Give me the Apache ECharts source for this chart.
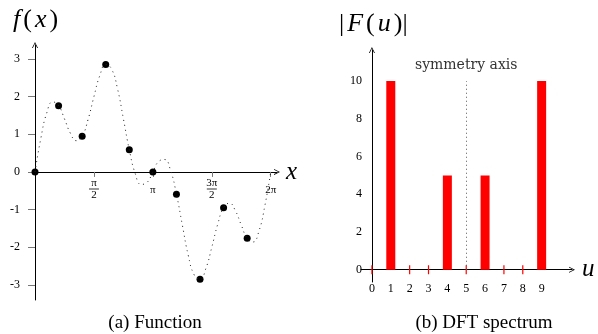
<!DOCTYPE html>
<html><head><meta charset="utf-8">
<script src="https://cdn.jsdelivr.net/npm/echarts@6/dist/echarts.min.js"></script>
<style>html,body{margin:0;padding:0;background:#fff}#c{width:598px;height:334px}</style>
</head><body><div id="c"></div>
<script>
// ---- data ----
const curveStep = Math.PI / 20;
const curveValues = [0, 0.90, 1.57, 1.86, 1.76, 1.41, 1.03, 0.83, 0.95, 1.39, 2.00, 2.56, 2.85, 2.73, 2.21, 1.41, 0.59, -0.04, -0.33, -0.28, 0,
  0.28, 0.33, 0.04, -0.59, -1.41, -2.21, -2.73, -2.85, -2.56, -2.00, -1.39, -0.95, -0.83, -1.03, -1.41, -1.76, -1.86, -1.57, -0.90, 0];
const sampleStep = Math.PI / 5;
const sampleValues = [0, 1.76, 0.95, 2.85, 0.59, 0, -0.59, -2.85, -0.95, -1.76];
const xTickValues = [Math.PI / 2, Math.PI, 3 * Math.PI / 2, 2 * Math.PI];
const xTickLabels = ['{n|π}\n{b| }\n{d|2}', '{s|π}', '{n|3π}\n{b| }\n{d|2}', '{s|2π}'];
const yTicksLeft = [-3, -2, -1, 0, 1, 2, 3];
const freqs = [0, 1, 2, 3, 4, 5, 6, 7, 8, 9];
const magnitudes = [0, 10, 0, 0, 5, 0, 5, 0, 0, 10];
const yTicksRight = [0, 2, 4, 6, 8, 10];
const symmetryU = 5;

const FONT = 'Liberation Serif';
const arrow = 'path://M0,10 L5,0 L10,10 L8.6,10 L5,2.6 L1.4,10 Z';

const chart = echarts.init(document.getElementById('c'), null, {renderer: 'canvas'});
const axisLineBase = {show: true, onZero: true, symbol: ['none', arrow], symbolSize: [7, 6], lineStyle: {color: '#000', width: 1}};
const titleRich = {
  i: {fontFamily: FONT, fontStyle: 'italic', fontWeight: 'normal', fontSize: 26, color: '#000', padding: [0, 3, 0, 3]},
  r: {fontFamily: FONT, fontWeight: 'normal', fontSize: 26, color: '#000'}
};

chart.setOption({
  animation: false,
  backgroundColor: '#fff',
  title: [
    {text: '{r|}{i|f}{r|(}{i|x}{r|)}', left: 5, top: 2, textStyle: {fontWeight: 'normal', rich: titleRich}},
    {text: '{r||}{i|F}{r|(}{i|u}{r|)}{r||}', left: 334, top: 6, textStyle: {fontWeight: 'normal', rich: titleRich}},
    {text: '(a) Function', left: 150, textAlign: 'center', top: 309, textStyle: {fontFamily: FONT, fontSize: 19, fontWeight: 'normal', color: '#000'}},
    {text: '(b) DFT spectrum', left: 479, textAlign: 'center', top: 309, textStyle: {fontFamily: FONT, fontSize: 19, fontWeight: 'normal', color: '#000'}}
  ],
  grid: [
    {left: 35, top: 45, width: 242, height: 255},
    {left: 361, top: 50, width: 211, height: 232}
  ],
  xAxis: [
    {type: 'value', gridIndex: 0, min: 0, max: 6.45,
      name: 'x', nameLocation: 'end', nameGap: 9,
      nameTextStyle: {fontFamily: FONT, fontStyle: 'italic', fontSize: 25, color: '#000', verticalAlign: 'middle', padding: [0, 0, 4, 0]},
      axisLine: axisLineBase,
      axisTick: {show: true, length: 5, inside: false, customValues: xTickValues, lineStyle: {color: '#777'}},
      splitLine: {show: false},
      axisLabel: {show: true, margin: -121, customValues: xTickValues, color: '#000',
        formatter: v => { let best = 0; xTickValues.forEach((t, i) => { if (Math.abs(t - v) < Math.abs(xTickValues[best] - v)) best = i; }); return xTickLabels[best]; },
        rich: {
          n: {fontFamily: FONT, fontSize: 11, lineHeight: 9, align: 'center'},
          b: {fontSize: 1, lineHeight: 2, height: 0.8, width: 10, backgroundColor: '#000', align: 'center'},
          d: {fontFamily: FONT, fontSize: 11, lineHeight: 10, align: 'center'},
          s: {fontFamily: FONT, fontSize: 11, lineHeight: 22}
        }}},
    {type: 'value', gridIndex: 1, min: -0.58, max: 10.61,
      name: 'u', nameLocation: 'end', nameGap: 10,
      nameTextStyle: {fontFamily: FONT, fontStyle: 'italic', fontSize: 25, color: '#000', verticalAlign: 'middle', padding: [0, 0, 4, 0]},
      axisLine: axisLineBase,
      axisTick: {show: false},
      splitLine: {show: false},
      axisLabel: {show: true, margin: 1, customValues: freqs, fontFamily: FONT, fontSize: 12, color: '#000'}}
  ],
  yAxis: [
    {type: 'value', gridIndex: 0, min: -3.4, max: 3.37,
      axisLine: axisLineBase,
      axisTick: {show: true, length: 7, inside: false, customValues: yTicksLeft, lineStyle: {color: '#777'}},
      splitLine: {show: false},
      axisLabel: {show: true, margin: 15, customValues: yTicksLeft, fontFamily: FONT, fontSize: 12, color: '#000'}},
    {type: 'value', gridIndex: 1, min: -0.65, max: 11.65,
      axisLine: axisLineBase,
      axisTick: {show: false},
      splitLine: {show: false},
      axisLabel: {show: true, margin: -1, customValues: yTicksRight, fontFamily: FONT, fontSize: 12, color: '#000'}}
  ],
  series: [
    {type: 'line', xAxisIndex: 0, yAxisIndex: 0, smooth: true, showSymbol: false, silent: true,
      data: curveValues.map((v, i) => [i * curveStep, v]),
      lineStyle: {color: '#222', width: 1, type: [1, 4]}},
    {type: 'scatter', xAxisIndex: 0, yAxisIndex: 0, symbolSize: 7, silent: true,
      data: sampleValues.map((v, i) => [i * sampleStep, v]),
      itemStyle: {color: '#000', opacity: 1}},
    {type: 'bar', xAxisIndex: 1, yAxisIndex: 1, barWidth: 9, silent: true,
      data: freqs.map((u, i) => [u, magnitudes[i]]),
      itemStyle: {color: '#ff0000'},
      markLine: {silent: true, symbol: ['none', 'none'], animation: false,
        lineStyle: {color: '#555', width: 1, type: [1, 3]},
        label: {show: true, position: 'end', distance: 9, formatter: 'symmetry axis', fontFamily: 'DejaVu Serif', fontSize: 14, color: '#333'},
        data: [[{coord: [symmetryU, 0]}, {coord: [symmetryU, magnitudes[1]]}]]}},
    {type: 'scatter', xAxisIndex: 1, yAxisIndex: 1, symbol: 'rect', symbolSize: [1.2, 9], silent: true,
      data: freqs.filter((u, i) => magnitudes[i] === 0).map(u => [u, 0]),
      itemStyle: {color: '#ff0000', opacity: 1}}
  ]
});
</script></body></html>
